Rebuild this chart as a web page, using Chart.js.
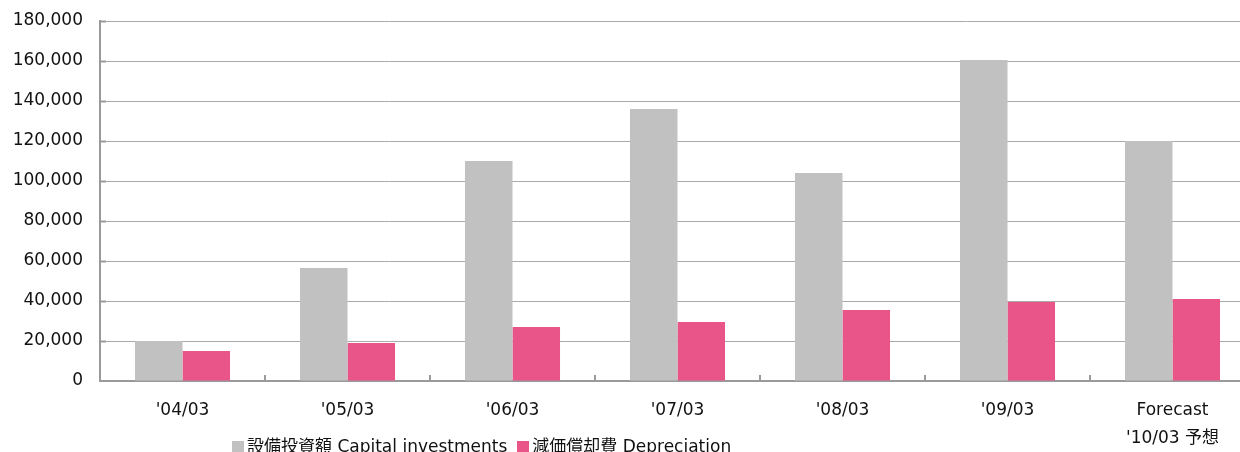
<!DOCTYPE html>
<html>
<head>
<meta charset="utf-8">
<script src="https://cdn.jsdelivr.net/npm/chart.js@4/dist/chart.umd.min.js"></script>
<style>
html,body{margin:0;padding:0;background:#fff;overflow:hidden;width:1240px;height:452px;}
#wrap{position:relative;width:1256px;height:452px;}
#legend{position:absolute;left:232px;top:436px;font-family:"DejaVu Sans","Noto Sans CJK JP",sans-serif;font-size:17px;color:#111;white-space:nowrap;line-height:20px;}
#legend span.box{display:inline-block;width:12px;height:12px;margin-right:3px;vertical-align:-1px;}
#legend span.item{margin-right:10px;}
</style>
</head>
<body>
<div id="wrap">
<canvas id="c" width="1256" height="452"></canvas>
<div id="legend"></div>
</div>
<script>
const categories = ["'04/03", "'05/03", "'06/03", "'07/03", "'08/03", "'09/03", ["Forecast", "'10/03 予想"]];
const capitalInvestments = [20000, 56500, 110000, 136000, 104000, 160500, 120000];
const depreciation = [15000, 19000, 27000, 29500, 35500, 39500, 41000];
const seriesNames = ["設備投資額 Capital investments", "減価償却費 Depreciation"];
const seriesColors = ["#c1c1c1", "#ea5589"];
const yMin = 0, yMax = 180000, yStep = 20000;

const FONT = '"DejaVu Sans","Noto Sans CJK JP",sans-serif';

const stubs = {
  id: 'stubs',
  afterDraw(chart) {
    const ctx = chart.ctx, x = chart.scales.x, y = chart.scales.y;
    ctx.save();
    ctx.strokeStyle = '#9a9a9a';
    ctx.lineWidth = 2;
    y.ticks.forEach((t, i) => {
      if (t.value === 0) return;
      const py = Math.round(y.getPixelForValue(t.value)) + 0.5;
      ctx.beginPath(); ctx.moveTo(x.left, py); ctx.lineTo(x.left + 6, py); ctx.stroke();
    });
    for (let i = 0; i < categories.length - 1; i++) {
      const px = Math.round((x.getPixelForValue(i) + x.getPixelForValue(i + 1)) / 2);
      ctx.beginPath(); ctx.moveTo(px, y.bottom); ctx.lineTo(px, y.bottom - 6); ctx.stroke();
    }
    ctx.restore();
  }
};

new Chart(document.getElementById('c'), {
  type: 'bar',
  data: {
    labels: categories,
    datasets: [
      { label: seriesNames[0], data: capitalInvestments, backgroundColor: seriesColors[0], borderWidth: 0 },
      { label: seriesNames[1], data: depreciation, backgroundColor: seriesColors[1], borderWidth: 0 }
    ]
  },
  options: {
    responsive: false,
    animation: false,
    devicePixelRatio: 1,
    layout: { padding: { top: 21, right: 1, left: 0, bottom: 0 } },
    datasets: { bar: { categoryPercentage: 0.576, barPercentage: 1 } },
    plugins: { legend: { display: false }, tooltip: { enabled: false } },
    scales: {
      x: {
        grid: { display: false, drawTicks: false },
        border: { display: true, color: '#9a9a9a', width: 2 },
        ticks: { color: '#111', font: { family: FONT, size: 17, lineHeight: 1.65 }, padding: 16, maxRotation: 0, autoSkip: false },
        afterFit(s) { s.height = 71; s.paddingLeft = 0; s.paddingRight = 0; }
      },
      y: {
        min: yMin, max: yMax,
        grid: { color: '#aaaaaa', lineWidth: 1, drawTicks: false },
        border: { display: true, color: '#9a9a9a', width: 2 },
        ticks: {
          stepSize: yStep, color: '#111', padding: 17,
          font: { family: FONT, size: 17 },
          callback: v => v.toLocaleString('en-US')
        },
        afterFit(s) { s.width = 100; s.paddingTop = 0; s.paddingBottom = 0; }
      }
    }
  },
  plugins: [stubs]
});

const lg = document.getElementById('legend');
seriesNames.forEach((n, i) => {
  const it = document.createElement('span'); it.className = 'item';
  const b = document.createElement('span'); b.className = 'box'; b.style.background = seriesColors[i];
  it.appendChild(b); it.appendChild(document.createTextNode(n));
  lg.appendChild(it);
});
</script>
</body>
</html>
